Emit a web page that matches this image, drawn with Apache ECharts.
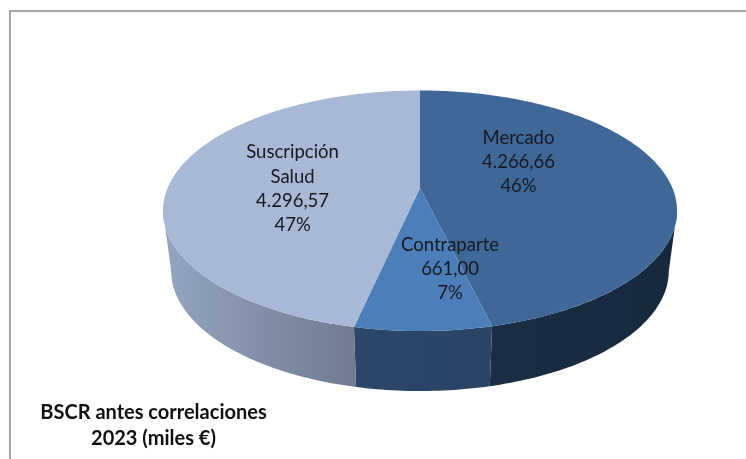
<!DOCTYPE html>
<html>
<head>
<meta charset="utf-8">
<style>html,body{margin:0;padding:0;background:#fff}#c{width:746px;height:459px}</style>
<script src="https://cdn.jsdelivr.net/npm/echarts@6/dist/echarts.min.js"></script>
</head>
<body>
<div id="c"></div>
<script>
// Data
const categories = ['Mercado', 'Contraparte', 'Suscripción\nSalud'];
const values = [4266.66, 661.00, 4296.57];
const titleLines = ['BSCR antes correlaciones', '2023 (miles €)'];

// Styles
const topColors = ['#3f6899', '#4c7eb9', '#a9b8d6'];
const wallStops = [['#1a2d44', '#17293d'], ['#2a4669', '#2b4465'], ['#95a5c0', '#707b8f']];
const labelRadius = [0.475, 0.62, 0.505];
const labelShift = [-24, -9.2, -6];

// Perspective projection of the unit disk
const view = { cx: 420, apexY: 188, A: 252.4, B: 116, k: -0.189, depth: 60, baseScale: 0.968 };
function project(X, Y, base) {
  const w = 1 + view.k * Y;
  const a = base ? view.A * view.baseScale : view.A;
  return [view.cx + a * X / w, view.apexY + (base ? view.depth : 0) + view.B * Y / w];
}
const rimPoint = (deg, base) => {
  const t = deg * Math.PI / 180;
  return project(Math.sin(t), -Math.cos(t), base);
};
const arc = (from, to, base) => {
  const n = Math.max(2, Math.ceil(Math.abs(to - from)));
  const out = [];
  for (let i = 0; i <= n; i++) out.push(rimPoint(from + (to - from) * i / n, base));
  return out;
};

const total = values.reduce((a, b) => a + b, 0);
const fmt = v => {
  const [i, d] = v.toFixed(2).split('.');
  return i.replace(/\B(?=(\d{3})+$)/g, '.') + ',' + d;
};
const sweeps = [];
values.reduce((acc, v) => {
  const end = acc + v / total * 360;
  sweeps.push([acc, end]);
  return end;
}, 0);
const WALL_FROM = 101, WALL_TO = 259;

function renderSlice(params, api) {
  const i = api.value(0);
  const [a0, a1] = sweeps[i];
  const children = [];
  const w0 = Math.max(a0, WALL_FROM), w1 = Math.min(a1, WALL_TO);
  if (w1 > w0) {
    const pts = arc(w0, w1, false).concat(arc(w1, w0, true));
    const xs = pts.map(p => p[0]);
    children.push({
      type: 'polygon',
      shape: { points: pts },
      style: {
        fill: new echarts.graphic.LinearGradient(Math.min(...xs), 0, Math.max(...xs), 0, [
          { offset: 0, color: wallStops[i][0] },
          { offset: 1, color: wallStops[i][1] }
        ], true)
      }
    });
  }
  children.push({
    type: 'polygon',
    shape: { points: [project(0, 0, false)].concat(arc(a0, a1, false)) },
    style: { fill: topColors[i] }
  });
  const mid = ((a0 + a1) / 2 + labelShift[i]) * Math.PI / 180;
  const lp = project(labelRadius[i] * Math.sin(mid), -labelRadius[i] * Math.cos(mid), false);
  children.push({
    type: 'text',
    z2: 10,
    style: {
      x: lp[0], y: lp[1] + 1,
      text: categories[i] + '\n' + fmt(values[i]) + '\n' + Math.round(values[i] / total * 100) + '%',
      align: 'center', verticalAlign: 'middle',
      font: '18.5px Lato', lineHeight: 24.3, fill: '#16191f'
    }
  });
  return { type: 'group', children };
}

const chart = echarts.init(document.getElementById('c'), null, { renderer: 'canvas' });
chart.setOption({
  animation: false,
  backgroundColor: '#ffffff',
  title: {
    text: titleLines.join('\n'),
    left: 148.5, top: 395, textAlign: 'center',
    textStyle: { fontFamily: 'Lato', fontSize: 20, fontWeight: 'bold', color: '#111111', lineHeight: 26 }
  },
  graphic: [{
    type: 'polyline',
    silent: true,
    shape: { points: [[10, 459], [10, 11], [746, 11]] },
    style: { stroke: '#a6a6a6', lineWidth: 2, fill: null }
  }],
  series: [{
    type: 'custom',
    coordinateSystem: 'none',
    renderItem: renderSlice,
    data: values.map((v, i) => [i, v])
  }]
});
</script>
</body>
</html>
